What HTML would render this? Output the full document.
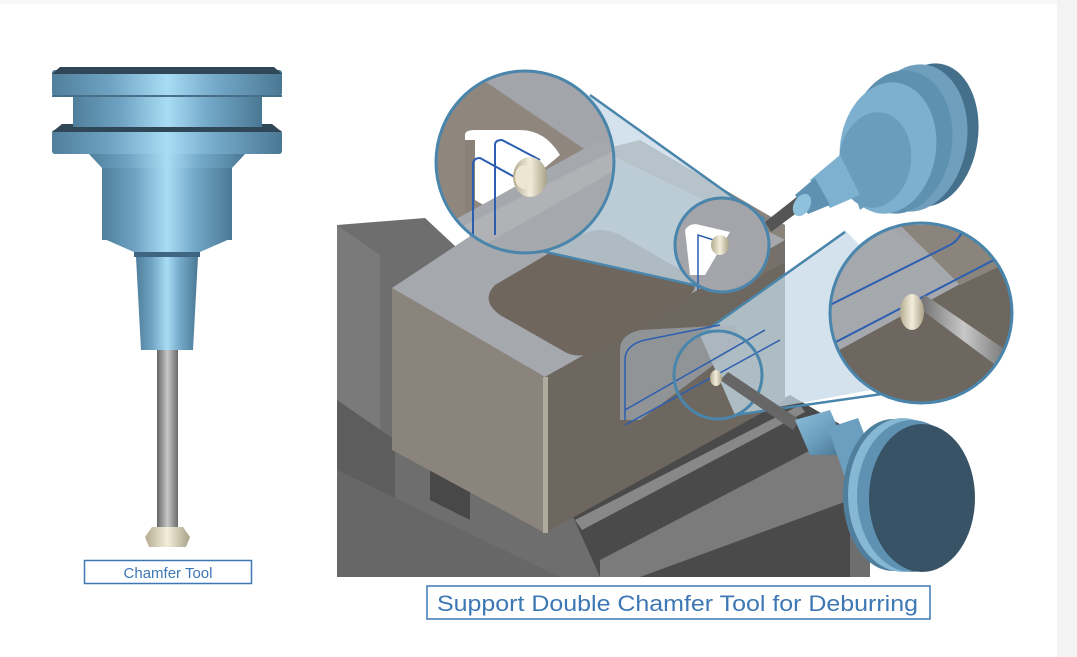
<!DOCTYPE html>
<html><head><meta charset="utf-8"><style>
html,body{margin:0;padding:0;background:#fff;}
svg{display:block;}
</style></head><body>
<svg width="1077" height="657" viewBox="0 0 1077 657" xmlns="http://www.w3.org/2000/svg">
<defs>
<linearGradient id="bl" x1="0" x2="1" y1="0" y2="0">
<stop offset="0" stop-color="#4f7f9c"/><stop offset="0.25" stop-color="#6fa2c2"/><stop offset="0.5" stop-color="#a9dcf4"/><stop offset="0.7" stop-color="#76abcb"/><stop offset="1" stop-color="#4a7894"/>
</linearGradient>
<linearGradient id="gr" x1="0" x2="1"><stop offset="0" stop-color="#666"/><stop offset="0.5" stop-color="#c8c8c8"/><stop offset="1" stop-color="#6a6a6a"/></linearGradient>
<linearGradient id="tip" x1="0" x2="1"><stop offset="0" stop-color="#b4ab90"/><stop offset="0.5" stop-color="#f3eedb"/><stop offset="1" stop-color="#a9a187"/></linearGradient>
<linearGradient id="tb" x1="0" x2="1" y1="0" y2="1"><stop offset="0" stop-color="#8fc0dc"/><stop offset="0.5" stop-color="#6c9fbf"/><stop offset="1" stop-color="#44708c"/></linearGradient>
</defs>
<rect x="1057" y="0" width="20" height="657" fill="#f3f3f3"/>
<rect x="0" y="0" width="1057" height="4" fill="#f7f7f7"/>

<!-- left tool -->
<rect x="157" y="345" width="21" height="183" fill="url(#gr)"/>
<polygon points="152,527 183,527 190,537 186,547 149,547 145,537" fill="url(#tip)"/>
<polygon points="136,257 198,257 193,350 141,350" fill="url(#bl)"/>
<rect x="134" y="251" width="66" height="6" fill="#3f6680"/>
<polygon points="102,238 232,238 200,252 134,252" fill="url(#bl)"/>
<rect x="102" y="167" width="130" height="73" fill="url(#bl)"/>
<polygon points="88,153 246,153 232,168 102,168" fill="url(#bl)"/>
<rect x="52" y="130" width="230" height="24" rx="3" fill="url(#bl)"/>
<polygon points="62,124 272,124 282,132 52,132" fill="#2f4756"/>
<rect x="73" y="95" width="189" height="32" fill="url(#bl)"/>
<rect x="52" y="70" width="230" height="26" rx="3" fill="url(#bl)"/>
<polygon points="60,67 274,67 282,74 52,74" fill="#2f4756"/>
<line x1="52" y1="96" x2="282" y2="96" stroke="#476f88" stroke-width="2"/>
<rect x="84.5" y="560.5" width="167" height="23" fill="#fff" stroke="#3d78b5" stroke-width="1.5"/>
<text x="168" y="578" text-anchor="middle" font-family="Liberation Sans, sans-serif" font-size="15" fill="#3d78b5">Chamfer Tool</text>

<!-- vise background -->
<polygon points="337,225 425,218 470,260 600,420 870,440 870,577 337,577" fill="#6e6e6e"/>
<polygon points="337,225 380,255 380,577 337,577" fill="#7a7a7a"/>
<polygon points="337,400 395,440 395,577 337,577" fill="#5d5d5d"/>
<polygon points="337,470 560,577 337,577" fill="#676767"/>
<polygon points="570,510 790,395 850,430 850,577 600,577" fill="#4a4a4a"/>
<polygon points="575,520 800,405 805,412 582,530" fill="#888"/>
<polygon points="600,560 830,440 850,450 850,500 640,577 600,577" fill="#7b7b7b"/>
<polygon points="430,460 470,485 470,520 430,500" fill="#484848"/>

<!-- block -->
<polygon points="392,288 600,150 785,240 545,377" fill="#a5a8ad"/>
<polygon points="392,288 545,377 545,533 392,450" fill="#8b847c"/>
<polygon points="545,377 785,240 785,400 545,533" fill="#6e6760"/>
<rect x="543" y="377" width="5" height="156" fill="#b1aa9f"/>
<path d="M495,285 Q480,300 500,315 L565,352 Q580,360 600,350 L690,295 Q700,285 690,275 L620,235 Q600,225 580,235 Z" fill="#6f665e"/>
<polygon points="600,150 640,140 785,225 785,240" fill="#8a847c"/>
<polygon points="760,255 785,240 785,262 760,276" fill="#77706a"/>

<!-- upper lens cone -->
<polygon points="590,95 765,220 725,292 470,235" fill="#c4d8e6" opacity="0.75"/>
<path d="M590,95 L765,220 M470,235 L725,292" stroke="#4a85ab" stroke-width="2.5" fill="none"/>
<!-- upper big lens -->
<ellipse cx="525" cy="162" rx="89" ry="91" fill="#a3a5aa"/>
<clipPath id="c1"><ellipse cx="525" cy="162" rx="88" ry="90"/></clipPath>
<g clip-path="url(#c1)">
<polygon points="436,71 470,71 615,170 615,253 436,253" fill="#8f877e"/>
<path d="M465,135 Q465,130 475,130 L520,130 Q545,130 560,155 L495,210 Q470,200 465,190 Z" fill="#fff"/>
<rect x="465" y="140" width="10" height="110" fill="#8a8179"/>
<polygon points="436,253 436,230 600,140 615,150 615,253" fill="#a5a8ad"/>
<polygon points="436,253 436,240 615,150 615,170 470,253" fill="#b0b2b6"/>
<path d="M473,255 L473,165 Q473,158 480,158 L520,180" stroke="#2c5fb0" stroke-width="2" fill="none"/>
<path d="M495,235 L495,145 Q495,140 502,140 L540,160" stroke="#2c5fb0" stroke-width="2" fill="none"/>
<ellipse cx="530" cy="177" rx="17" ry="20" fill="url(#tip)"/>
<ellipse cx="524" cy="177" rx="9" ry="12" fill="#ece6d2"/>
</g>
<ellipse cx="525" cy="162" rx="89" ry="91" fill="none" stroke="#4a85ab" stroke-width="3"/>
<!-- small upper lens -->
<circle cx="722" cy="245" r="47" fill="#a3a5aa"/>
<path d="M685,230 Q690,222 700,225 L730,232 L705,275 L690,275 Z" fill="#fff"/>
<path d="M698,290 L698,235 L720,242" stroke="#2c5fb0" stroke-width="1.5" fill="none"/>
<ellipse cx="720" cy="245" rx="9" ry="10" fill="url(#tip)"/>
<circle cx="722" cy="245" r="47" fill="none" stroke="#4a85ab" stroke-width="3"/>

<!-- upper tool -->
<polygon points="765,222 798,196 806,206 771,232" fill="#555"/>
<ellipse cx="930" cy="135" rx="48" ry="72" transform="rotate(8 930 135)" fill="#44708c"/>
<ellipse cx="915" cy="138" rx="52" ry="74" transform="rotate(8 915 138)" fill="#6f9fbd"/>
<ellipse cx="900" cy="142" rx="52" ry="72" transform="rotate(8 900 142)" fill="#5e90b0"/>
<ellipse cx="888" cy="148" rx="48" ry="66" transform="rotate(8 888 148)" fill="#7db0cf"/>
<ellipse cx="875" cy="160" rx="36" ry="48" transform="rotate(8 875 160)" fill="#6a9dbd"/>
<polygon points="840,150 870,120 900,180 860,210" fill="#6a9dbd"/>
<polygon points="810,180 840,155 860,195 830,208" fill="#7eb1cf"/>
<polygon points="795,195 815,178 830,205 808,214" fill="#5f92b2"/>
<ellipse cx="802" cy="205" rx="8" ry="12" transform="rotate(30 802 205)" fill="#8fc0dc"/>

<!-- lower lens cone -->
<polygon points="845,230 980,370 735,415 700,335" fill="#c4d8e6" opacity="0.75"/>
<path d="M700,335 L845,232 M735,415 L945,385" stroke="#4a85ab" stroke-width="2.5" fill="none"/>
<path d="M620,350 Q620,335 640,330 L735,325 L740,345 L640,420 L620,420 Z" fill="#a8b3bd" opacity="0.6"/>
<path d="M625,420 L625,360 Q625,345 645,340 L720,325" stroke="#2c5fb0" stroke-width="1.5" fill="none"/>
<path d="M625,410 L765,330 M625,425 L780,340" stroke="#2c5fb0" stroke-width="1.5" fill="none"/>
<circle cx="718" cy="375" r="44" fill="none" stroke="#4a85ab" stroke-width="3"/>
<polygon points="720,380 728,372 800,420 793,430" fill="#666"/>
<ellipse cx="716" cy="378" rx="6" ry="8" fill="url(#tip)"/>
<!-- lower big lens -->
<ellipse cx="921" cy="313" rx="91" ry="90" fill="#a3a5aa"/>
<clipPath id="c2"><ellipse cx="921" cy="313" rx="90" ry="89"/></clipPath>
<g clip-path="url(#c2)">
<polygon points="830,223 880,223 1013,300 1013,403 830,403" fill="#a5a8ad"/>
<polygon points="830,355 1013,255 1013,403 830,403" fill="#6e6760"/>
<polygon points="900,225 1013,225 1013,260 960,285" fill="#8b847c"/>
<path d="M830,305 L950,245 Q960,240 965,225 M830,345 L1013,250" stroke="#2c5fb0" stroke-width="2" fill="none"/>
<polygon points="915,305 925,295 1013,355 1005,372" fill="url(#gr)"/>
<ellipse cx="912" cy="312" rx="12" ry="18" fill="url(#tip)"/>
</g>
<ellipse cx="921" cy="313" rx="91" ry="90" fill="none" stroke="#4a85ab" stroke-width="3"/>

<!-- lower tool -->
<polygon points="795,420 830,410 850,455 810,455" fill="url(#tb)"/>
<polygon points="828,428 858,418 880,475 845,478" fill="#6b9ebf"/>
<ellipse cx="893" cy="495" rx="50" ry="76" fill="#4f7f9c"/>
<ellipse cx="903" cy="495" rx="55" ry="77" fill="#86b8d4"/>
<ellipse cx="912" cy="496" rx="55" ry="76" fill="#5f92b2"/>
<ellipse cx="922" cy="498" rx="53" ry="74" fill="#385365"/>

<!-- bottom label -->
<rect x="427" y="586" width="503" height="33" fill="#fff" stroke="#3d78b5" stroke-width="1.5"/>
<text x="437" y="611" textLength="481" lengthAdjust="spacingAndGlyphs" font-family="Liberation Sans, sans-serif" font-size="22" fill="#3d78b5">Support Double Chamfer Tool for Deburring</text>
</svg>
</body></html>
